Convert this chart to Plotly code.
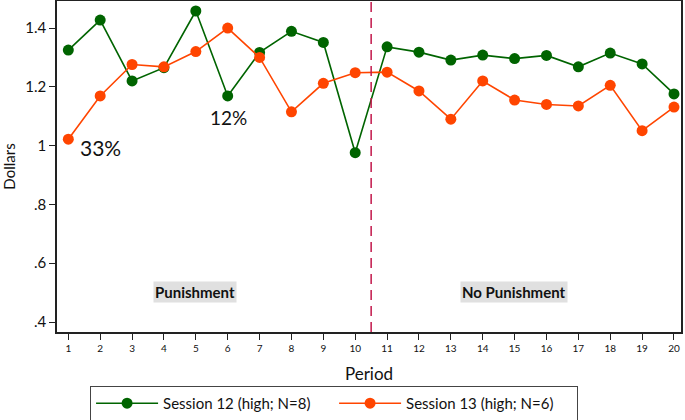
import plotly.graph_objects as go

periods = list(range(1, 21))
session12 = [1.325, 1.427, 1.22, 1.265, 1.458, 1.169, 1.317, 1.389, 1.351, 0.976,
             1.336, 1.318, 1.291, 1.308, 1.296, 1.307, 1.268, 1.315, 1.278, 1.176]
session13 = [1.022, 1.169, 1.276, 1.268, 1.32, 1.40, 1.30, 1.115, 1.212, 1.248,
             1.25, 1.186, 1.09, 1.22, 1.155, 1.14, 1.135, 1.205, 1.051, 1.131]
ytick_vals = [0.4, 0.6, 0.8, 1.0, 1.2, 1.4]
ytick_text = [".4", ".6", ".8", "1", "1.2", "1.4"]
series_names = ["Session 12 (high; N=8)", "Session 13 (high; N=6)"]
colors = ["#006400", "#FF4500"]

FONT = "Lato, Open Sans, sans-serif"

fig = go.Figure()
for name, vals, c in zip(series_names, [session12, session13], colors):
    fig.add_trace(go.Scatter(
        x=periods, y=vals, mode="lines+markers", name=name,
        line=dict(color=c, width=1.6),
        marker=dict(color=c, size=11),
    ))

fig.add_shape(type="line", x0=10.5, x1=10.5, xref="x", y0=0, y1=1, yref="paper",
              line=dict(color="#C2184B", width=1.5, dash="10px,6px"))

fig.add_annotation(x=2.0, y=0.992, text="33%", showarrow=False,
                   font=dict(size=21, color="#111", family=FONT))
fig.add_annotation(x=6.01, y=1.097, text="12%", showarrow=False,
                   font=dict(size=19, color="#111", family=FONT))
fig.add_annotation(x=4.97, y=0.502, text="<b>Punishment</b>", showarrow=False,
                   bgcolor="#E0E0E0", borderpad=1,
                   font=dict(size=15, color="#111", family=FONT))
fig.add_annotation(x=14.98, y=0.502, text="<b>No Punishment</b>", showarrow=False,
                   bgcolor="#E0E0E0", borderpad=1,
                   font=dict(size=15, color="#111", family=FONT))

fig.update_layout(
    width=685, height=420,
    margin=dict(l=57, r=4, t=1, b=88, autoexpand=False),
    paper_bgcolor="white", plot_bgcolor="white",
    font=dict(family=FONT, color="#111"),
    showlegend=True,
    legend=dict(orientation="h", x=0.053, xanchor="left", y=-0.163, yanchor="top",
                bordercolor="#444", borderwidth=1, bgcolor="white",
                font=dict(size=15, family=FONT), itemwidth=62,
                entrywidth=166, entrywidthmode="pixels",
                traceorder="normal", tracegroupgap=0),
    xaxis=dict(range=[0.645, 20.22], tickvals=periods, ticks="outside", ticklen=6,
               tickcolor="#222", tickfont=dict(size=10, family=FONT),
               showline=True, linecolor="#222", linewidth=1.5, mirror=True,
               showgrid=False, zeroline=False, automargin=False,
               title=dict(text="Period", font=dict(size=17, family=FONT))),
    yaxis=dict(range=[0.366, 1.492], tickvals=ytick_vals, ticktext=ytick_text,
               ticks="outside", ticklen=6, tickcolor="#222",
               tickfont=dict(size=15, family=FONT),
               showline=True, linecolor="#222", linewidth=1.5, mirror=True,
               showgrid=False, zeroline=False, automargin=False,
               title=dict(text="Dollars", font=dict(size=15, family=FONT))),
)

fig.write_html("out.html", config={"displayModeBar": False},
               post_script="document.body.style.margin='0';")
